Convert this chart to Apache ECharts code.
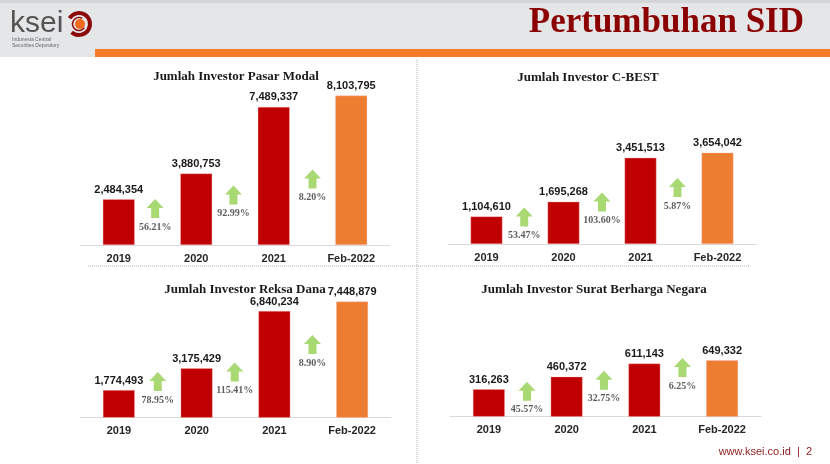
<!DOCTYPE html>
<html>
<head>
<meta charset="utf-8">
<script src="https://cdn.jsdelivr.net/npm/echarts@6/dist/echarts.min.js"></script>
<style>
html,body{margin:0;padding:0;background:#fff;}
#chart{width:830px;height:464px;}
</style>
</head>
<body>
<div id="chart"></div>
<script>
// ---- DATA ----
var categories = ['2019', '2020', '2021', 'Feb-2022'];
var panelTitles = ['Jumlah Investor Pasar Modal', 'Jumlah Investor C-BEST', 'Jumlah Investor Reksa Dana', 'Jumlah Investor Surat Berharga Negara'];
var pasarModal = [2484354, 3880753, 7489337, 8103795];
var cBest = [1104610, 1695268, 3451513, 3654042];
var reksaDana = [1774493, 3175429, 6840234, 7448879];
var sbn = [316263, 460372, 611143, 649332];
var growthPasarModal = ['56.21%', '92.99%', '8.20%'];
var growthCBest = ['53.47%', '103.60%', '5.87%'];
var growthReksaDana = ['78.95%', '115.41%', '8.90%'];
var growthSbn = ['45.57%', '32.75%', '6.25%'];
var pageTitle = 'Pertumbuhan SID';
var footerText = 'www.ksei.co.id  |  2';

// ---- LAYOUT (positions, sizes, styles) ----
var panels = [
  { values: pasarModal, growth: growthPasarModal, grid: {left: 80, top: 79, width: 310, height: 166}, yMax: 9000000,
    arrowX: [0.47, 1.48, 2.5], arrowY: [1980000, 2710000, 3580000], title: {x: 231, y: 72} },
  { values: cBest, growth: growthCBest, grid: {left: 448, top: 94, width: 308, height: 150}, yMax: 6000000,
    arrowX: [0.49, 1.5, 2.48], arrowY: [1080000, 1680000, 2260000], title: {x: 583, y: 73} },
  { values: reksaDana, growth: growthReksaDana, grid: {left: 80, top: 261.7, width: 311, height: 156}, yMax: 10000000,
    arrowX: [0.5, 1.49, 2.49], arrowY: [2320000, 2930000, 4690000], title: {x: 240, y: 285} },
  { values: sbn, growth: growthSbn, grid: {left: 450, top: 260, width: 311, height: 156.7}, yMax: 1800000,
    arrowX: [0.49, 1.48, 2.49], arrowY: [292000, 418000, 565000], title: {x: 589, y: 285} }
];
var RED = '#c00000', ORANGE = '#ed7d31', GREEN = '#92d050';
var arrowPath = 'path://M0,9 L8.5,0 L17,9 L12.5,9 L12.5,19 L4.5,19 L4.5,9 Z';

var grids = [], xAxes = [], yAxes = [], series = [], titles = [];
panels.forEach(function (p, i) {
  grids.push({left: p.grid.left, top: p.grid.top, width: p.grid.width, height: p.grid.height, containLabel: false});
  xAxes.push({
    type: 'category', gridIndex: i, data: categories,
    axisLine: {show: true, lineStyle: {color: '#d9d9d9', width: 1}},
    axisTick: {show: false},
    axisLabel: {color: '#262626', fontFamily: 'Liberation Sans, Arial', fontWeight: 'bold', fontSize: 11, margin: 8}
  });
  xAxes.push({type: 'value', gridIndex: i, min: -0.5, max: 3.5, show: false});
  yAxes.push({type: 'value', gridIndex: i, min: 0, max: p.yMax, show: false, splitLine: {show: false}});
  series.push({
    type: 'bar', xAxisIndex: 2 * i, yAxisIndex: i, barWidth: 32,
    data: p.values.map(function (v, k) {
      return {value: v, itemStyle: {color: k === p.values.length - 1 ? ORANGE : RED}};
    }),
    itemStyle: {borderColor: 'rgba(255,180,180,0.6)', borderWidth: 0.6},
    label: {
      show: true, position: 'top', distance: 4,
      color: '#1a1a1a', fontFamily: 'Liberation Sans, Arial', fontWeight: 'bold', fontSize: 11,
      formatter: function (d) { return d.value.toLocaleString('en-US'); }
    },
    silent: true, animation: false
  });
  series.push({
    type: 'scatter', xAxisIndex: 2 * i + 1, yAxisIndex: i,
    symbol: arrowPath, symbolSize: [17, 19],
    itemStyle: {color: GREEN},
    data: p.arrowX.map(function (x, k) { return [x, p.arrowY[k]]; }),
    label: {
      show: true, position: 'bottom', distance: 4,
      color: '#333333', fontFamily: 'Liberation Serif, Times New Roman', fontWeight: 'bold', fontSize: 10,
      formatter: (function (g) { return function (d) { return g[d.dataIndex]; }; })(p.growth)
    },
    silent: true, animation: false
  });
  titles.push({
    text: panelTitles[i], left: p.title.x, top: p.title.y, textAlign: 'center', textVerticalAlign: 'middle',
    textStyle: {fontFamily: 'Liberation Serif, Times New Roman', fontWeight: 'bold', fontSize: 13, color: '#1a1a1a'}
  });
});

var graphics = [
  // header background
  {type: 'rect', shape: {x: 0, y: 0, width: 830, height: 57}, style: {fill: '#e5e6e8'}, z: -10},
  {type: 'rect', shape: {x: 0, y: 0, width: 830, height: 3}, style: {fill: '#d4d5d7'}, z: -9},
  {type: 'rect', shape: {x: 95, y: 49, width: 735, height: 8}, style: {fill: '#f47b27'}, z: -8},
  // page title
  {type: 'text', x: 804, y: 23, style: {text: pageTitle, textAlign: 'right', textVerticalAlign: 'middle',
    font: 'bold 35px "Liberation Serif", "Times New Roman", serif', fill: '#8b0000'}},
  // logo
  {type: 'text', x: 10, y: 24, style: {text: 'ksei', textVerticalAlign: 'middle',
    font: '30px "Liberation Sans", Arial, sans-serif', fill: '#555555'}},
  {type: 'arc', shape: {cx: 79, cy: 24, r: 11, startAngle: -2.6, endAngle: 2.3}, style: {fill: 'none', stroke: '#8b0a0a', lineWidth: 4}},
  {type: 'arc', shape: {cx: 79, cy: 24, r: 6.5, startAngle: 0.6, endAngle: 5.2}, style: {fill: 'none', stroke: '#8b0a0a', lineWidth: 1.5}},
  {type: 'circle', shape: {cx: 80, cy: 24, r: 5}, style: {fill: '#f26b1d'}},
  {type: 'text', x: 12, y: 40, style: {text: 'Indonesia Central', textVerticalAlign: 'middle',
    font: '5px "Liberation Sans", Arial, sans-serif', fill: '#666'}},
  {type: 'text', x: 12, y: 46, style: {text: 'Securities Depository', textVerticalAlign: 'middle',
    font: '5px "Liberation Sans", Arial, sans-serif', fill: '#666'}},
  // dividers
  {type: 'line', shape: {x1: 417, y1: 60, x2: 417, y2: 464}, style: {stroke: '#b0b0b0', lineWidth: 1, lineDash: [1, 1]}},
  {type: 'line', shape: {x1: 88, y1: 266, x2: 750, y2: 266}, style: {stroke: '#b0b0b0', lineWidth: 1, lineDash: [1, 1]}},
  // footer
  {type: 'text', x: 812, y: 452, style: {text: footerText, textAlign: 'right', textVerticalAlign: 'middle',
    font: '11px "Liberation Sans", Arial, sans-serif', fill: '#8b1a1a'}}
];

var chart = echarts.init(document.getElementById('chart'), null, {renderer: 'canvas'});
chart.setOption({
  backgroundColor: '#ffffff',
  animation: false,
  title: titles,
  grid: grids,
  xAxis: xAxes,
  yAxis: yAxes,
  series: series,
  graphic: graphics
});
</script>
</body>
</html>
